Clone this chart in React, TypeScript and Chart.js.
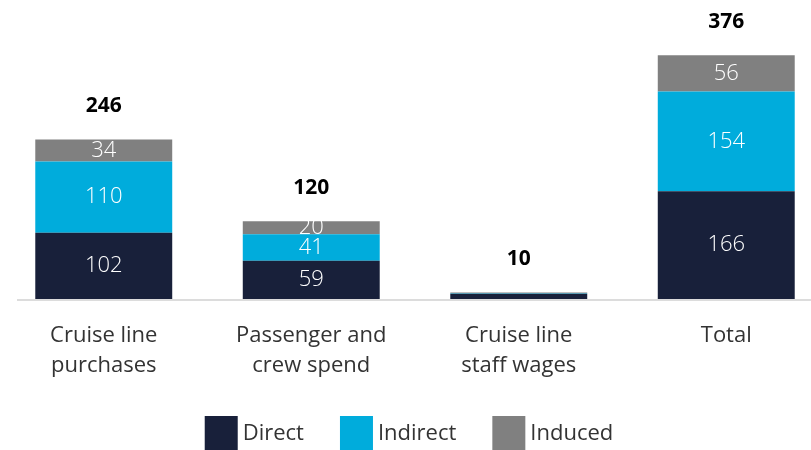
import React, { useEffect, useRef } from "react";
import { Chart, registerables } from "chart.js";

Chart.register(...registerables);

const categories: string[][] = [
  ["Cruise line", "purchases"],
  ["Passenger and", "crew spend"],
  ["Cruise line", "staff wages"],
  ["Total"],
];
const direct = [102, 59, 8, 166];
const indirect = [110, 41, 1, 154];
const induced = [34, 20, 1, 56];
const totals = [246, 120, 10, 376];
const seriesNames = ["Direct", "Indirect", "Induced"];
const colors = ["#18203a", "#00acdc", "#808080"];

const FONT = "'Open Sans', 'DejaVu Sans', sans-serif";

const labelsPlugin = {
  id: "customLabels",
  afterDatasetsDraw(chart: any) {
    const ctx = chart.ctx;
    ctx.save();
    ctx.textAlign = "center";
    ctx.textBaseline = "middle";
    chart.data.datasets.forEach((ds: any, di: number) => {
      const meta = chart.getDatasetMeta(di);
      meta.data.forEach((bar: any, i: number) => {
        const v = ds.data[i];
        if (v < 10) return;
        ctx.fillStyle = "#ffffff";
        ctx.font = `300 22px ${FONT}`;
        ctx.fillText(String(v), bar.x, (bar.y + bar.base) / 2);
      });
    });
    const last = chart.getDatasetMeta(chart.data.datasets.length - 1);
    last.data.forEach((bar: any, i: number) => {
      ctx.fillStyle = "#000000";
      ctx.font = `bold 21px ${FONT}`;
      ctx.fillText(String(totals[i]), bar.x, bar.y - 33);
    });
    // baseline
    const yBase = chart.scales.y.getPixelForValue(0);
    ctx.fillStyle = "#dcdcdc";
    ctx.fillRect(chart.chartArea.left + 17, yBase, chart.width, 2);
    // legend
    ctx.font = `22px ${FONT}`;
    ctx.textAlign = "left";
    const box = 33;
    const gapText = 5;
    const gapItem = 36;
    const widths = seriesNames.map((n) => box + gapText + ctx.measureText(n).width);
    const total = widths.reduce((a, b) => a + b, 0) + gapItem * (widths.length - 1);
    let x = 409 - total / 2;
    const cy = 433;
    seriesNames.forEach((n, i) => {
      ctx.fillStyle = colors[i];
      ctx.fillRect(x, cy - 17, box, 34);
      ctx.fillStyle = "#333333";
      ctx.fillText(n, x + box + gapText, cy + 1);
      x += widths[i] + gapItem;
    });
    ctx.restore();
  },
};

export default function App() {
  const ref = useRef<HTMLCanvasElement | null>(null);
  useEffect(() => {
    document.body.style.margin = "0";
    const chart = new Chart(ref.current as HTMLCanvasElement, {
      type: "bar",
      data: {
        labels: categories,
        datasets: [
          { label: seriesNames[0], data: direct, backgroundColor: colors[0] },
          { label: seriesNames[1], data: indirect, backgroundColor: colors[1] },
          { label: seriesNames[2], data: induced, backgroundColor: colors[2] },
        ],
      },
      options: {
        responsive: false,
        animation: false,
        layout: { padding: { top: 0, bottom: 47, left: 0, right: 0 } },
        plugins: { legend: { display: false }, tooltip: { enabled: false } },
        datasets: { bar: { barPercentage: 0.66, categoryPercentage: 1 } } as any,
        scales: {
          x: {
            stacked: true,
            grid: { display: false, drawTicks: false },
            border: { display: false },
            ticks: {
              color: "#333333",
              font: { family: FONT, size: 22, lineHeight: 30 / 22 },
              padding: 22,
              maxRotation: 0,
              autoSkip: false,
            },
          },
          y: {
            stacked: true,
            display: false,
            min: 0,
            max: 461,
          },
        },
      },
      plugins: [labelsPlugin],
    });
    return () => chart.destroy();
  }, []);
  return (
    <div style={{ width: 811, height: 450, overflow: "hidden" }}>
      <canvas ref={ref} width={830} height={450} style={{ width: 830, height: 450, display: "block" }} />
    </div>
  );
}
